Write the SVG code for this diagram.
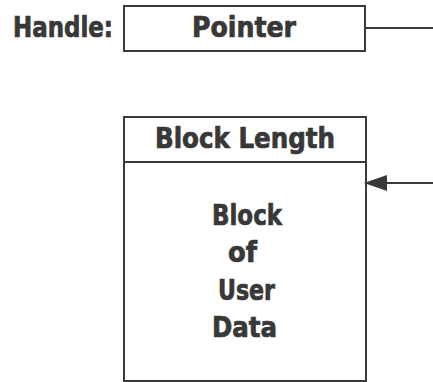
<svg xmlns="http://www.w3.org/2000/svg" width="433" height="382" viewBox="0 0 433 382">
  <defs>
    <style>
      .box { fill: #ffffff; stroke: #3a3a3a; stroke-width: 2; }
      .wire { fill: none; stroke: #3a3a3a; stroke-width: 2; }
      .lbl { font-family: "DejaVu Sans Condensed", "DejaVu Sans", sans-serif; font-weight: bold; font-size: 28px; fill: #383838; stroke: #383838; stroke-width: 0.7; }
    </style>
  </defs>
  <rect width="433" height="382" fill="#ffffff"/>

  <g id="handle">
    <text class="lbl" x="13" y="37" textLength="100" lengthAdjust="spacingAndGlyphs">Handle:</text>
    <rect class="box" x="124" y="6" width="241" height="45"/>
    <text class="lbl" x="192" y="37" textLength="104" lengthAdjust="spacingAndGlyphs">Pointer</text>
  </g>

  <g id="block">
    <rect class="box" x="124" y="117" width="242" height="264"/>
    <line class="wire" x1="124" y1="162" x2="366" y2="162"/>
    <text class="lbl" x="155" y="148" textLength="180" lengthAdjust="spacingAndGlyphs">Block Length</text>
    <text class="lbl" x="212" y="225" textLength="70" lengthAdjust="spacingAndGlyphs">Block</text>
    <text class="lbl" x="228" y="262" textLength="29" lengthAdjust="spacingAndGlyphs">of</text>
    <text class="lbl" x="218" y="300" textLength="57" lengthAdjust="spacingAndGlyphs">User</text>
    <text class="lbl" x="212" y="337" textLength="65" lengthAdjust="spacingAndGlyphs">Data</text>
  </g>

  <g id="connectors">
    <line class="wire" x1="365" y1="28" x2="433" y2="28"/>
    <path class="wire" d="M433,183 L380,183"/>
    <path d="M364,183 L387,175 L387,191 Z" fill="#3a3a3a"/>
  </g>
</svg>
